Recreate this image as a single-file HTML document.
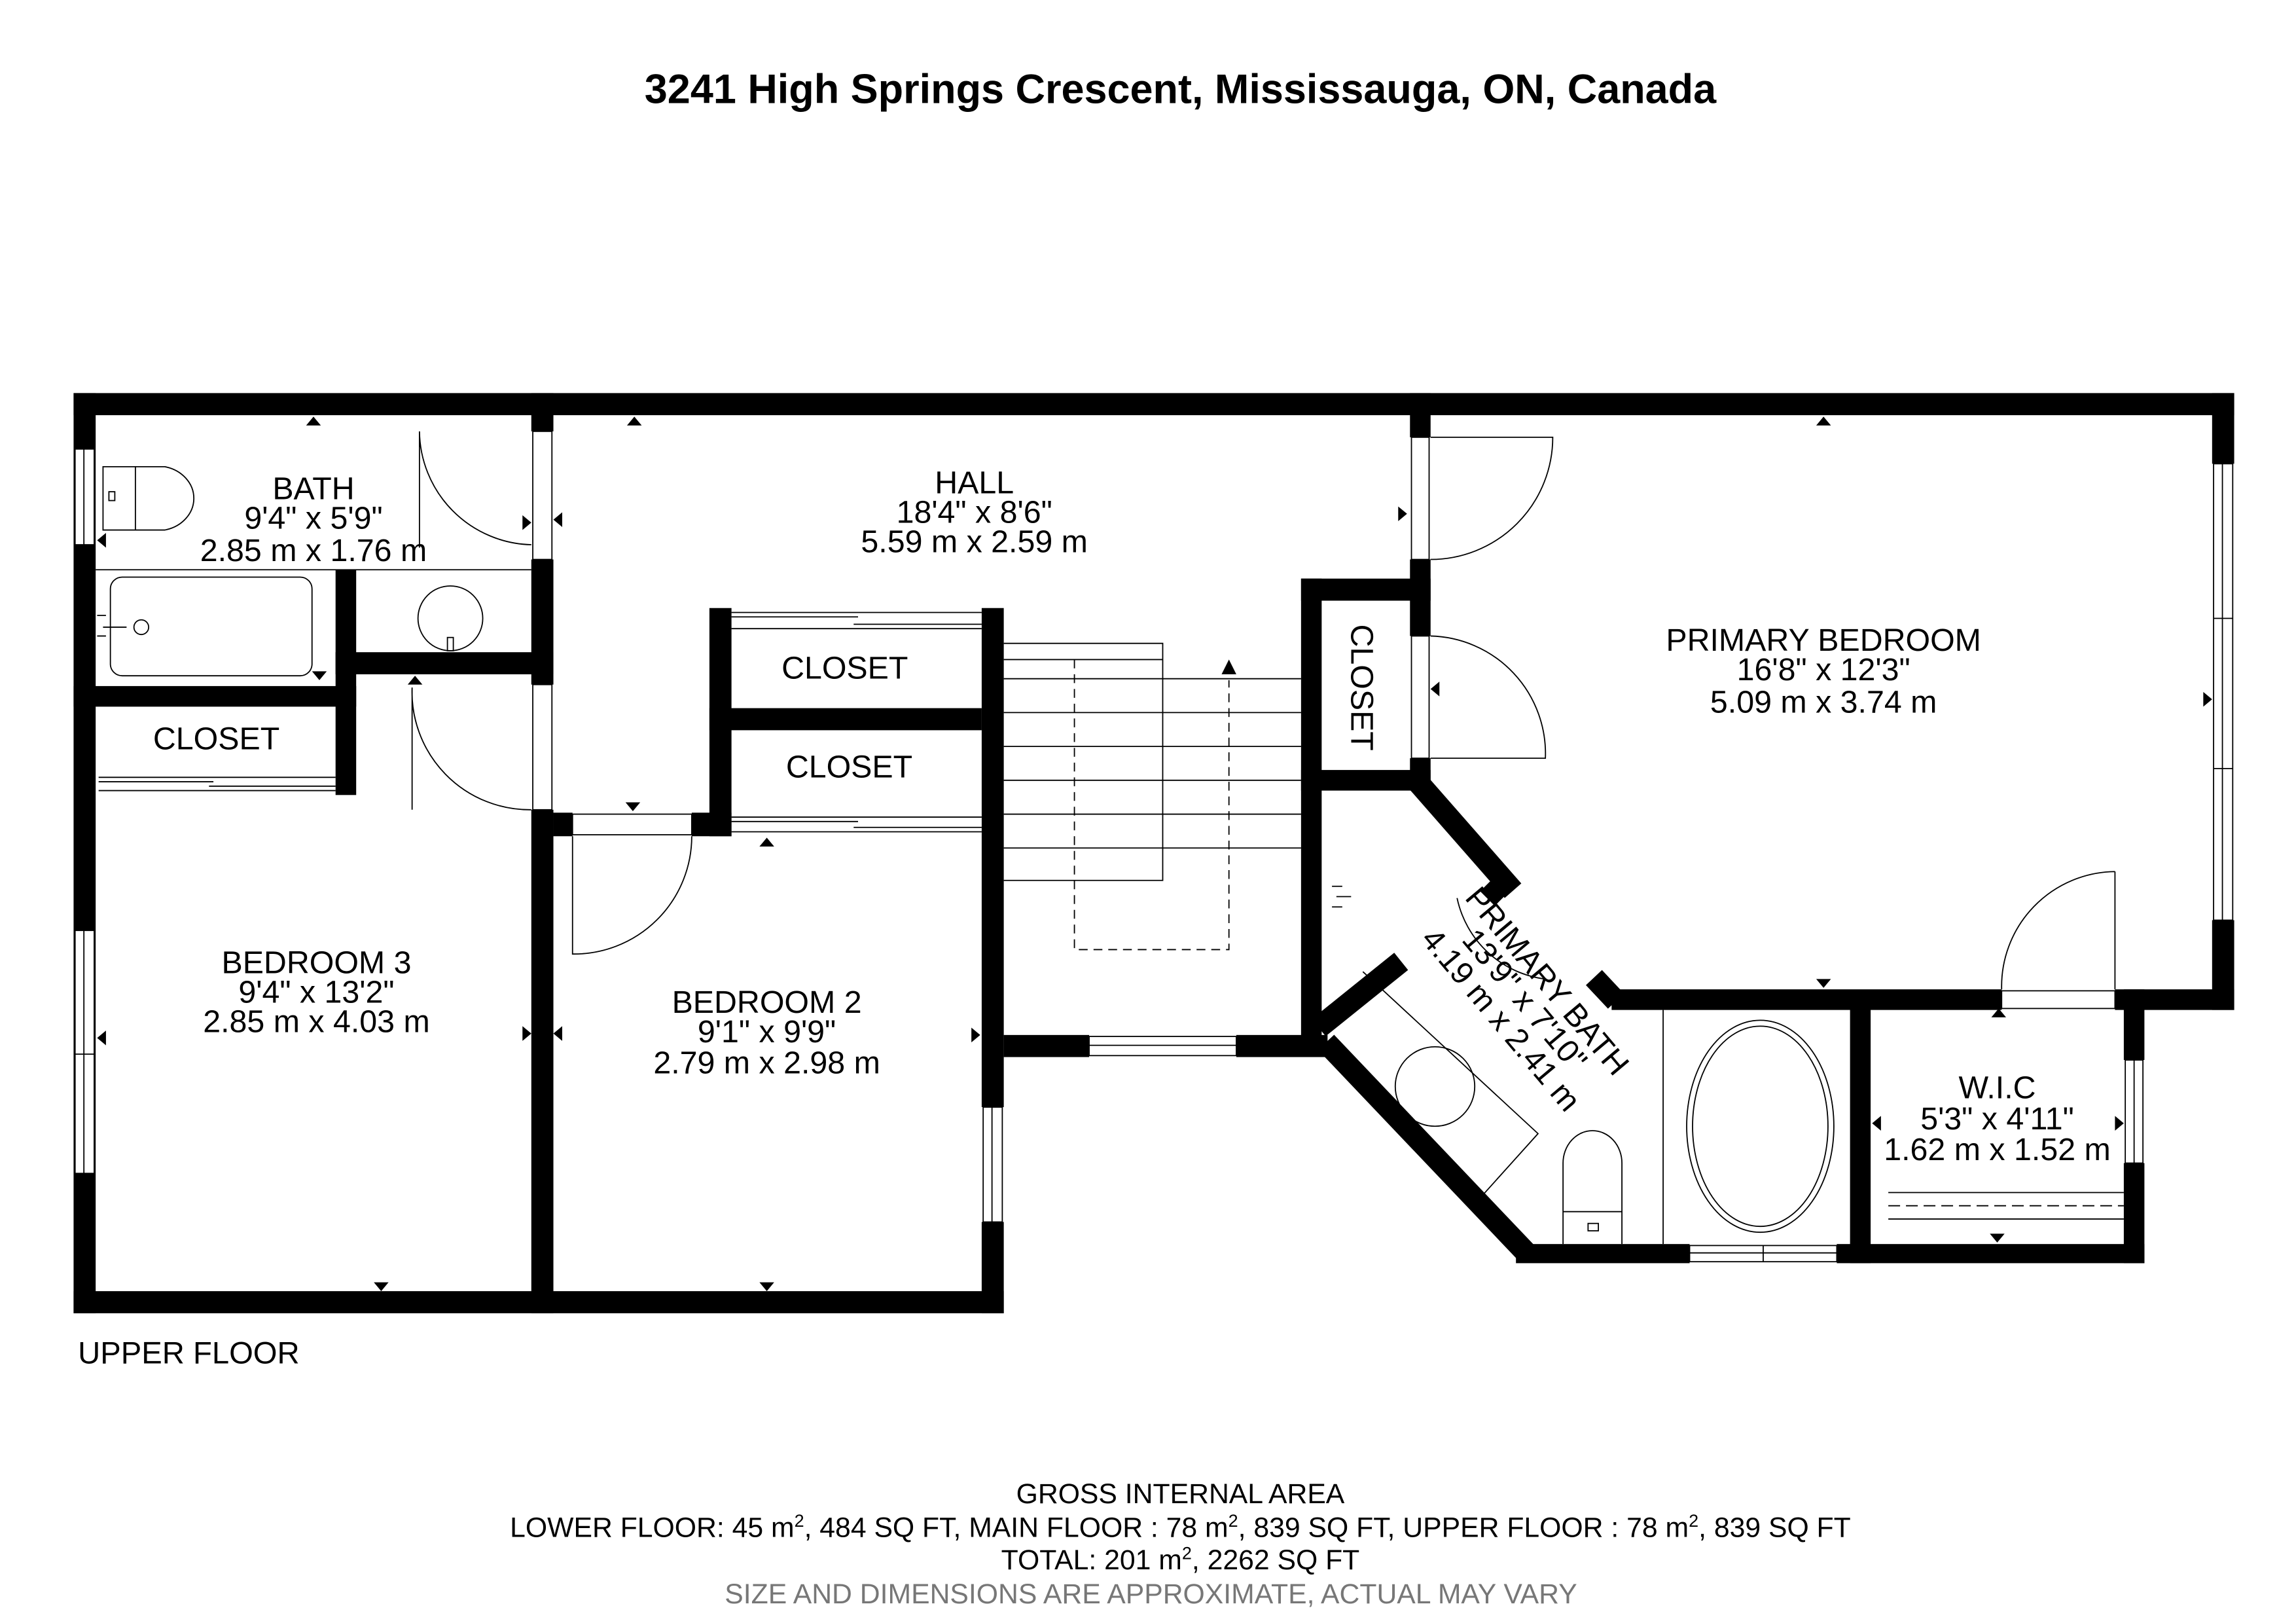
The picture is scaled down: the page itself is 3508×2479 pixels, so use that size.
<!DOCTYPE html>
<html><head><meta charset="utf-8"><style>
html,body{margin:0;padding:0;background:#fff}
svg{display:block}
text{font-family:"Liberation Sans",sans-serif;fill:#000}
</style></head><body>
<svg width="3508" height="2479" viewBox="0 0 1560 1102.4" xmlns="http://www.w3.org/2000/svg">
<rect width="1560" height="1102.4" fill="#fff"/>
<text x="802" y="70" font-size="28" font-weight="bold" text-anchor="middle">3241 High Springs Crescent, Mississauga, ON, Canada</text>

<g fill="none" stroke="#000" stroke-width="0.8">
  <line x1="65" y1="387" x2="361" y2="387"/>
  <path d="M70 317 H112 A25 22 0 0 1 112 360 H70 Z"/>
  <line x1="92" y1="317" x2="92" y2="360"/>
  <rect x="74" y="334" width="4" height="6"/>
  <rect x="75" y="392" width="137" height="67" rx="8"/>
  <circle cx="96" cy="426" r="5"/>
  <path d="M66 418 H72 M66 432 H72 M70 426 H86"/>
  <circle cx="306" cy="420" r="22"/>
  <rect x="304" y="433" width="4" height="9"/>
  <path d="M285 293 V372 M285 293 A78 78 0 0 0 361 370"/>
  <path d="M280 467 A80 80 0 0 0 361 550 M280 467 V550"/>
  <path d="M389 568 V648 A80 80 0 0 0 470 568"/>
  <path d="M972 297 H1055 A83 83 0 0 1 972 380"/>
  <path d="M972 432 A80 80 0 0 1 1050 515 H972"/>
  <path d="M1437 592 V672 M1437 592 A78 78 0 0 0 1360 672"/>
  <path d="M67 528 H228 M67 537 H228 M67 531 H145 M142 534 H228"/>
  <path d="M497 416 H667 M497 427 H667 M497 419 H583 M580 424 H667"/>
  <path d="M497 555 H667 M497 565 H667 M497 558 H583 M580 562 H667"/>
  <path d="M682 437 H790 V598 H780"/>
  <path d="M682 461 H884 M682 484 H884 M682 507 H884 M682 530 H884 M682 553 H884 M682 576 H884 M682 598 H780"/>
  <path d="M682 448 H790"/>
  <path d="M730 448 V645 H835 V462" stroke-dasharray="6,4"/>
  <line x1="1130" y1="686" x2="1130" y2="845"/>
  <ellipse cx="1196" cy="765" rx="50" ry="72"/>
  <ellipse cx="1196" cy="765" rx="46" ry="68"/>
  <path d="M1062 845 V790 A20 22 0 0 1 1102 790 V845"/>
  <line x1="1062" y1="823" x2="1102" y2="823"/>
  <rect x="1079" y="831" width="7" height="5"/>
  <path d="M926 660 L1045 770 L1000 820"/>
  <circle cx="975" cy="738" r="27"/>
  <path d="M905 602 H912 M905 616 H912 M908 609 H918"/>
  <path d="M1283 810 H1443 M1283 828 H1443" />
  <path d="M990 610 A70 70 0 0 0 1050 665"/>
</g>
<path d="M1283 819 H1443" stroke="#000" stroke-width="0.8" stroke-dasharray="8,4" fill="none"/>

<g fill="#000">
  <rect x="50" y="267" width="1468" height="15"/>
  <rect x="50" y="267" width="15" height="625"/>
  <rect x="50" y="877" width="632" height="15"/>
  <rect x="361" y="267" width="15" height="26"/>
  <rect x="361" y="380" width="15" height="85"/>
  <rect x="361" y="550" width="15" height="342"/>
  <rect x="228" y="387" width="14" height="153"/>
  <rect x="228" y="443" width="148" height="15"/>
  <rect x="50" y="466" width="192" height="14"/>
  <rect x="376" y="552" width="13" height="16"/>
  <rect x="470" y="552" width="27" height="16"/>
  <rect x="482" y="413" width="15" height="155"/>
  <rect x="482" y="481" width="185" height="15"/>
  <rect x="667" y="413" width="15" height="339"/>
  <rect x="667" y="830" width="15" height="62"/>
  <rect x="682" y="703" width="58" height="15"/>
  <rect x="840" y="703" width="62" height="15"/>
  <rect x="884" y="393" width="88" height="15"/>
  <rect x="884" y="393" width="14" height="318"/>
  <rect x="884" y="523" width="88" height="14"/>
  <rect x="958" y="267" width="14" height="30"/>
  <rect x="958" y="380" width="14" height="52"/>
  <rect x="958" y="515" width="14" height="22"/>
  <rect x="1503" y="267" width="15" height="48"/>
  <rect x="1503" y="625" width="15" height="61"/>
  <rect x="1095" y="672" width="265" height="14"/>
  <rect x="1437" y="672" width="81" height="14"/>
  <rect x="1257" y="680" width="14" height="178"/>
  <rect x="1443" y="672" width="14" height="48"/>
  <rect x="1443" y="790" width="14" height="68"/>
  <rect x="1030" y="845" width="118" height="13"/>
  <rect x="1248" y="845" width="209" height="13"/>
</g>
<g stroke="#000" stroke-width="15" stroke-linecap="butt" fill="none">
  <line x1="964" y1="532" x2="1028" y2="605"/>
  <line x1="1083" y1="664" x2="1098" y2="680"/>
  <line x1="901" y1="708" x2="1038" y2="852"/>
  <line x1="896" y1="698" x2="952" y2="653"/>
</g>
<rect x="1010" y="595" width="14" height="18" fill="#000" transform="rotate(45 1017 604)"/>

<g fill="#fff" stroke="#000" stroke-width="0.8">
  <rect x="51" y="305" width="13" height="65"/>
  <line x1="57" y1="305" x2="57" y2="370"/>
  <rect x="51" y="632" width="13" height="165"/>
  <line x1="57" y1="632" x2="57" y2="797"/><line x1="51" y1="716" x2="64" y2="716"/>
  <rect x="362" y="293" width="13" height="87"/>
  <rect x="362" y="465" width="13" height="85"/>
  <rect x="389" y="553" width="81" height="14"/>
  <rect x="668" y="752" width="13" height="78"/>
  <line x1="674" y1="752" x2="674" y2="830"/>
  <rect x="740" y="704" width="100" height="13"/>
  <line x1="740" y1="710" x2="840" y2="710"/>
  <rect x="959" y="297" width="12" height="83"/>
  <rect x="959" y="432" width="12" height="83"/>
  <rect x="1504" y="315" width="13" height="310"/>
  <line x1="1510" y1="315" x2="1510" y2="625"/>
  <line x1="1504" y1="420" x2="1517" y2="420"/><line x1="1504" y1="522" x2="1517" y2="522"/>
  <rect x="1360" y="673" width="77" height="12"/>
  <rect x="1444" y="720" width="12" height="70"/>
  <line x1="1450" y1="720" x2="1450" y2="790"/>
  <rect x="1148" y="846" width="100" height="11"/>
  <line x1="1148" y1="851" x2="1248" y2="851"/><line x1="1198" y1="846" x2="1198" y2="857"/>
</g>

<g fill="#000">
  <path d="M208 289 l5 -6 l5 6 Z"/><path d="M426 289 l5 -6 l5 6 Z"/><path d="M1234 289 l5 -6 l5 6 Z"/>
  <path d="M72 362 l-6 5 l6 5 Z"/><path d="M355 350 l6 5 l-6 5 Z"/><path d="M382 348 l-6 5 l6 5 Z"/>
  <path d="M950 344 l6 5 l-6 5 Z"/><path d="M212 456 l5 6 l5 -6 Z"/><path d="M277 465 l5 -6 l5 6 Z"/>
  <path d="M425 545 l5 6 l5 -6 Z"/><path d="M516 575 l5 -6 l5 6 Z"/>
  <path d="M72 700 l-6 5 l6 5 Z"/><path d="M355 697 l6 5 l-6 5 Z"/><path d="M382 697 l-6 5 l6 5 Z"/><path d="M660 698 l6 5 l-6 5 Z"/>
  <path d="M254 871 l5 6 l5 -6 Z"/><path d="M516 871 l5 6 l5 -6 Z"/>
  <path d="M830 458 l5 -10 l5 10 Z"/>
  <path d="M978 463 l-6 5 l6 5 Z"/><path d="M1497 470 l6 5 l-6 5 Z"/>
  <path d="M1234 665 l5 6 l5 -6 Z"/><path d="M1353 691 l5 -6 l5 6 Z"/>
  <path d="M1278 758 l-6 5 l6 5 Z"/><path d="M1437 758 l6 5 l-6 5 Z"/><path d="M1352 838 l5 6 l5 -6 Z"/>
</g>

<g font-size="21.5" text-anchor="middle">
  <text x="213" y="339">BATH</text><text x="213" y="359">9'4" x 5'9"</text><text x="213" y="381">2.85 m x 1.76 m</text>
  <text x="662" y="335">HALL</text><text x="662" y="355">18'4" x 8'6"</text><text x="662" y="375">5.59 m x 2.59 m</text>
  <text x="574" y="461">CLOSET</text><text x="577" y="528">CLOSET</text><text x="147" y="509">CLOSET</text>
  <text x="215" y="661">BEDROOM 3</text><text x="215" y="681">9'4" x 13'2"</text><text x="215" y="701">2.85 m x 4.03 m</text>
  <text x="521" y="688">BEDROOM 2</text><text x="521" y="708">9'1" x 9'9"</text><text x="521" y="729">2.79 m x 2.98 m</text>
  <text x="1239" y="442">PRIMARY BEDROOM</text><text x="1239" y="462">16'8" x 12'3"</text><text x="1239" y="484">5.09 m x 3.74 m</text>
  <text x="1357" y="746">W.I.C</text><text x="1357" y="767">5'3" x 4'11"</text><text x="1357" y="788">1.62 m x 1.52 m</text>
  <text transform="translate(918 467) rotate(90)">CLOSET</text>
  <g transform="translate(1035 680) rotate(50)">
    <text x="0" y="-14">PRIMARY BATH</text><text x="0" y="6">13'9" x 7'10"</text><text x="0" y="27">4.19 m x 2.41 m</text>
  </g>
</g>
<text x="53" y="926" font-size="21">UPPER FLOOR</text>
<g font-size="19" text-anchor="middle">
  <text x="802" y="1021">GROSS INTERNAL AREA</text>
  <text x="802" y="1044">LOWER FLOOR: 45 m<tspan dy="-7" font-size="12">2</tspan><tspan dy="7">, 484 SQ FT,  MAIN FLOOR : 78 m</tspan><tspan dy="-7" font-size="12">2</tspan><tspan dy="7">, 839 SQ FT, UPPER FLOOR : 78 m</tspan><tspan dy="-7" font-size="12">2</tspan><tspan dy="7">, 839 SQ FT</tspan></text>
  <text x="802" y="1066">TOTAL: 201 m<tspan dy="-7" font-size="12">2</tspan><tspan dy="7">, 2262 SQ FT</tspan></text>
  <text x="782" y="1089" style="fill:#777">SIZE AND DIMENSIONS ARE APPROXIMATE, ACTUAL MAY VARY</text>
</g>
</svg>
</body></html>
